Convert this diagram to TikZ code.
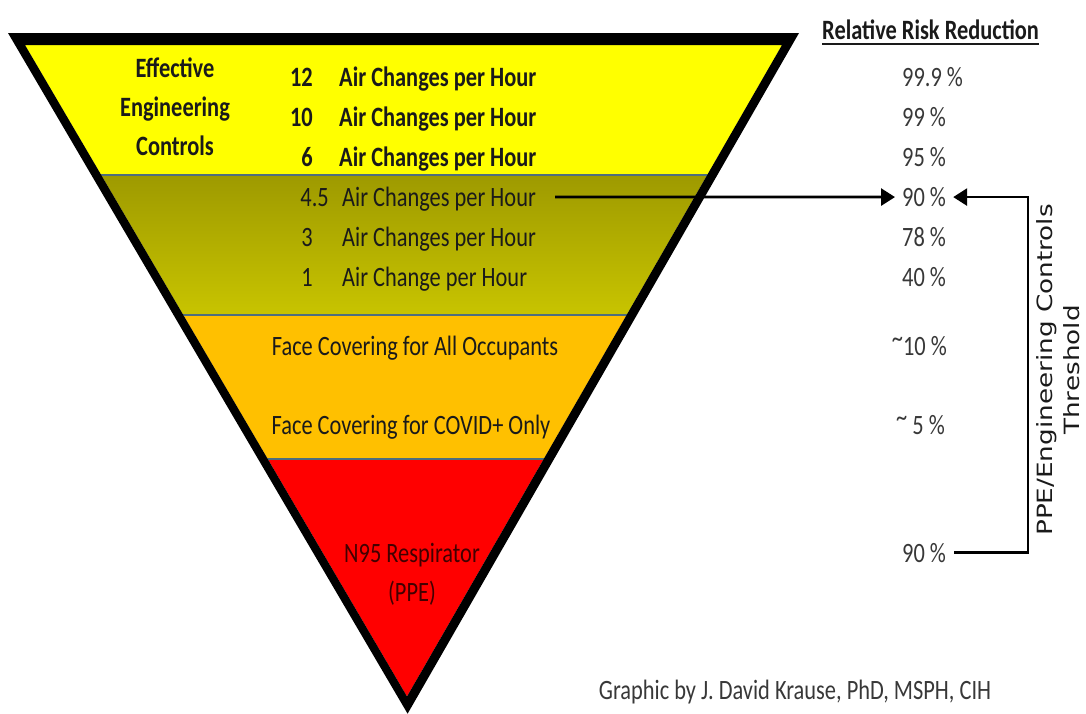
\documentclass[tikz,border=0pt]{standalone}
\usepackage{fontspec}
\setmainfont{Carlito}
\newfontfamily\vfont{DejaVu Sans}
\usepackage{graphicx}
\usetikzlibrary{calc,arrows.meta}
\newcommand{\st}[1]{\scalebox{1}[1.25]{#1}}
\newcommand{\tld}{\raisebox{0.28em}{\~{}}}
\definecolor{ybandc}{HTML}{FFFF00}
\definecolor{otop}{HTML}{9E9A00}
\definecolor{obot}{HTML}{C8C400}
\definecolor{orbandc}{HTML}{FFC000}
\definecolor{rbandc}{HTML}{FF0000}
\definecolor{sepc}{HTML}{4E6E7E}
\definecolor{inkc}{HTML}{1A1A1A}
\definecolor{grayc}{HTML}{383838}
\definecolor{n95c}{HTML}{420000}
\begin{document}
\begin{tikzpicture}[x=1pt,y=-1pt,
  txt/.style={inner sep=0pt, text=inkc, font=\fontsize{22.4}{31.2}\selectfont},
  bld/.style={txt, font=\fontsize{22.4}{31.2}\selectfont\bfseries},
  pct/.style={txt, text=grayc},
  sepline/.style={draw=sepc, line width=2.5pt},
  arr/.style={line width=2.8pt, draw=black, -{Triangle[length=14pt,width=17pt]}},
  ]
\useasboundingbox (0,0) rectangle (1086,713);
% bands
\begin{scope}
  \clip (25,45) -- (782,45) -- (407,696.5) -- cycle;
  \fill[ybandc] (0,40) rectangle (1086,175);
  \shade[top color=otop, bottom color=obot] (0,175) rectangle (1086,315);
  \fill[orbandc] (0,315) rectangle (1086,459);
  \fill[rbandc] (0,459) rectangle (1086,713);
  \draw[sepline] (0,175) -- (1086,175);
  \draw[sepline] (0,315) -- (1086,315);
  \draw[sepline] (0,459) -- (1086,459);
\end{scope}
% border
\fill[black, even odd rule] (8,33) -- (799,33) -- (407.6,713.7) -- cycle
  (25,45) -- (782,45) -- (407,696.5) -- cycle;

% left texts
\node[bld, anchor=base] (eec) at (175,77) {\st{\begin{tabular}[t]{@{}c@{}}Effective\\Engineering\\Controls\end{tabular}}};
\node[bld, anchor=base east] (n12) at (313,86.5) {\st{12}};
\node[bld, anchor=base west] (a12) at (339,86.5) {\st{Air Changes per Hour}};
\node[bld, anchor=base east] (n10) at (313,126.5) {\st{10}};
\node[bld, anchor=base west] (a10) at (339,126.5) {\st{Air Changes per Hour}};
\node[bld, anchor=base east] (n6) at (313,166.5) {\st{6}};
\node[bld, anchor=base west] (a6) at (339,166.5) {\st{Air Changes per Hour}};
\node[txt, anchor=base east] (n45) at (329,206.5) {\st{4.5}};
\node[txt, anchor=base west] (a45) at (342,206.5) {\st{Air Changes per Hour}};
\node[txt, anchor=base east] (n3) at (313,246.5) {\st{3}};
\node[txt, anchor=base west] (a3) at (342,246.5) {\st{Air Changes per Hour}};
\node[txt, anchor=base east] (n1) at (313,286.5) {\st{1}};
\node[txt, anchor=base west] (a1) at (342,286.5) {\st{Air Change per Hour}};
\node[txt, anchor=base] (fc1) at (415,355) {\st{Face Covering for All Occupants}};
\node[txt, anchor=base] (fc2) at (411,434) {\st{Face Covering for COVID+ Only}};
\node[txt, anchor=base, text=n95c] (n95) at (412,562) {\st{\begin{tabular}[t]{@{}c@{}}N95 Respirator\\(PPE)\end{tabular}}};

% right column
\node[bld, anchor=base west, text=inkc] (rrr) at (822,39) {\st{Relative Risk Reduction}};
\draw[line width=2.5pt, inkc] ($(rrr.base west)+(0,5)$) -- ($(rrr.base east)+(0,5)$);
\node[pct, anchor=base west] (p999) at (902,86.5) {\st{99.9 \%}};
\node[pct, anchor=base west] (p99) at (902,126.5) {\st{99 \%}};
\node[pct, anchor=base west] (p95) at (902,166.5) {\st{95 \%}};
\node[pct, anchor=base west] (p90a) at (902,206.5) {\st{90 \%}};
\node[pct, anchor=base west] (p78) at (902,246.5) {\st{78 \%}};
\node[pct, anchor=base west] (p40) at (902,286.5) {\st{40 \%}};
\node[pct, anchor=base east] (p10) at (947,355) {\st{\tld10 \%}};
\node[pct, anchor=base east] (p5) at (945,434) {\st{\tld\ 5 \%}};
\node[pct, anchor=base west] (p90c) at (902,562) {\st{90 \%}};

\node[rotate=90, inner sep=0pt, text=inkc, font=\vfont\fontsize{21}{27}\selectfont] (thr) at (1061,370)
  {\scalebox{1.25}[1]{\begin{tabular}{@{}c@{}}PPE/Engineering Controls\\Threshold\end{tabular}}};

\node[txt, anchor=base, text=grayc] (cred) at (795,699) {\st{Graphic by J. David Krause, PhD, MSPH, CIH}};

% connectors
\coordinate (a1s) at (555,197);
\draw[arr] (a1s) -- ($(p90a.west)+(-7,0)$);
\coordinate (bkx) at (1028,375);
\draw[arr] ($(p90c.east)+(8,0)$) -| (bkx) |- ($(p90a.east)+(7,0)$);
\end{tikzpicture}
\end{document}
